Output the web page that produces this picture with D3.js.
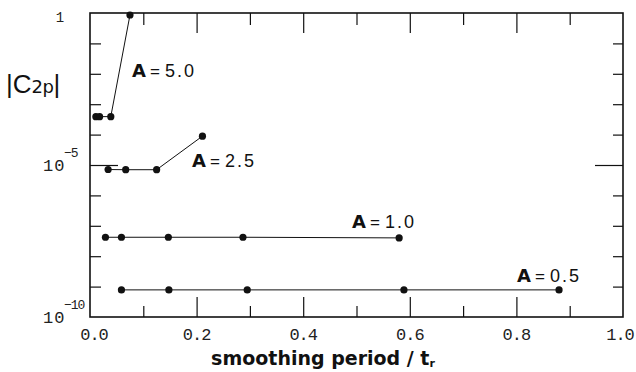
<!DOCTYPE html>
<html><head><meta charset="utf-8">
<script src="https://cdn.jsdelivr.net/npm/d3@7"></script>
<style>body{margin:0;background:#fff}svg{display:block}</style>
</head><body><svg id="c" width="636" height="372"></svg>
<script>
// ---- data ----
const seriesNames = ["A = 5.0", "A = 2.5", "A = 1.0", "A = 0.5"];
const amplitudeText = ["5.0", "2.5", "1.0", "0.5"];
const period50 = [0.011, 0.018, 0.039, 0.075];
const coef50   = [3.9e-4, 3.9e-4, 3.9e-4, 0.86];
const period25 = [0.034, 0.067, 0.125, 0.211];
const coef25   = [7.1e-6, 7.0e-6, 7.0e-6, 8.9e-5];
const period10 = [0.029, 0.059, 0.147, 0.287, 0.580];
const coef10   = [4.2e-8, 4.2e-8, 4.2e-8, 4.2e-8, 4.0e-8];
const period05 = [0.059, 0.148, 0.295, 0.589, 0.880];
const coef05   = [7.8e-10, 7.8e-10, 7.8e-10, 7.8e-10, 7.8e-10];
const xTickLabels = ["0.0", "0.2", "0.4", "0.6", "0.8", "1.0"];
const xMajorTicks = [0.2, 0.4, 0.6, 0.8];
const xMinorTicks = [0.1, 0.3, 0.5, 0.7, 0.9];
const yDecadeTicks = [1e-1, 1e-2, 1e-3, 1e-4, 1e-6, 1e-7, 1e-8, 1e-9];
const yLongTicks = [1e-5];
const yTickLabels = [{v: 1, base: "1", exp: ""}, {v: 1e-5, base: "10", exp: "\u22125"}, {v: 1e-10, base: "10", exp: "\u221210"}];

// ---- layout ----
const L = 90, R = 623, T = 13, B = 317;
const svg = d3.select("#c");
const x = d3.scaleLinear().domain([0, 1]).range([L, R]);
const y = d3.scaleLog().domain([1e-10, 1]).range([B, T]);

const mono = "'Liberation Mono', 'DejaVu Sans Mono', monospace";

// ticks via d3 axes (inward)
function styleAxis(g){ g.select(".domain").remove(); g.selectAll("line").attr("stroke","#111").attr("stroke-width",1.2); g.selectAll("text").remove(); }
svg.append("g").attr("transform",`translate(0,${B})`).call(d3.axisTop(x).tickValues(xMajorTicks).tickSize(20)).call(styleAxis);
svg.append("g").attr("transform",`translate(0,${B})`).call(d3.axisTop(x).tickValues(xMinorTicks).tickSize(11)).call(styleAxis);
svg.append("g").attr("transform",`translate(0,${T})`).call(d3.axisBottom(x).tickValues(xMajorTicks).tickSize(20)).call(styleAxis);
svg.append("g").attr("transform",`translate(0,${T})`).call(d3.axisBottom(x).tickValues(xMinorTicks).tickSize(12)).call(styleAxis);
svg.append("g").attr("transform",`translate(${L},0)`).call(d3.axisRight(y).tickValues(yDecadeTicks).tickSize(11)).call(styleAxis);
svg.append("g").attr("transform",`translate(${L},0)`).call(d3.axisRight(y).tickValues(yLongTicks).tickSize(28)).call(styleAxis);
svg.append("g").attr("transform",`translate(${R},0)`).call(d3.axisLeft(y).tickValues(yDecadeTicks).tickSize(10)).call(styleAxis);
svg.append("g").attr("transform",`translate(${R},0)`).call(d3.axisLeft(y).tickValues(yLongTicks).tickSize(28)).call(styleAxis);

// frame
svg.append("rect").attr("x",L).attr("y",T).attr("width",R-L).attr("height",B-T)
  .attr("fill","none").attr("stroke","#111").attr("stroke-width",1.6);

// x tick labels
svg.append("g").selectAll("text").data(xTickLabels).join("text")
  .attr("x", d => Math.min(Math.max(x(+d), L + 4), R - 3)).attr("y", 340).attr("text-anchor","middle")
  .attr("font-family", mono).attr("font-size", 17).attr("letter-spacing", -1)
  .attr("fill","#222").text(d => d);

// y tick labels
const yl = svg.append("g").attr("font-family", mono).attr("fill","#222");
yTickLabels.forEach(t => {
  if (t.exp === "") {
    yl.append("text").attr("x", 60).attr("y", y(t.v) + 9).attr("text-anchor","middle")
      .attr("font-size", 14).text(t.base);
  } else {
    yl.append("text").attr("x", 43).attr("y", y(t.v) + 6).attr("font-size", 17).attr("letter-spacing", 1).text(t.base);
    yl.append("text").attr("x", 64).attr("y", y(t.v) - 8).attr("font-size", 13).attr("letter-spacing", -1).text(t.exp);
  }
});

// series
const series = [
  {name: seriesNames[0], amp: amplitudeText[0], px: period50, py: coef50, lx: 132, ly: 77},
  {name: seriesNames[1], amp: amplitudeText[1], px: period25, py: coef25, lx: 192, ly: 167},
  {name: seriesNames[2], amp: amplitudeText[2], px: period10, py: coef10, lx: 352, ly: 228},
  {name: seriesNames[3], amp: amplitudeText[3], px: period05, py: coef05, lx: 517, ly: 282}
];
const line = d3.line().x(d => x(d[0])).y(d => y(d[1]));
series.forEach(s => {
  const pts = s.px.map((v, i) => [v, s.py[i]]);
  svg.append("path").attr("d", line(pts)).attr("fill","none").attr("stroke","#111").attr("stroke-width",1);
  svg.append("g").selectAll("circle").data(pts).join("circle")
    .attr("cx", d => x(d[0])).attr("cy", d => y(d[1])).attr("r", 3.6).attr("fill","#111");
  const t = svg.append("text").attr("x", s.lx).attr("y", s.ly).attr("fill","#111");
  t.append("tspan").attr("font-family","'DejaVu Sans', sans-serif").attr("font-weight","bold").attr("font-size",18).text("A");
  t.append("tspan").attr("font-family","'Liberation Sans', sans-serif").attr("font-size",17).attr("dx",4).text("=");
  t.append("tspan").attr("font-family","'Liberation Sans Narrow','Liberation Sans', sans-serif").attr("font-size",18).attr("dx",5).attr("letter-spacing",2).text(s.amp);
});

// y-axis title |C2p|
const yt = svg.append("text").attr("x", 6).attr("y", 93).attr("fill","#111");
yt.append("tspan").attr("font-family","'Liberation Sans Narrow','Liberation Sans', sans-serif").attr("font-size",26).text("|C");
yt.append("tspan").attr("font-family","'DejaVu Sans', sans-serif").attr("font-size",18).attr("letter-spacing",-0.5).text("2p");
yt.append("tspan").attr("font-family","'Liberation Sans Narrow','Liberation Sans', sans-serif").attr("font-size",26).text("|");

// x-axis title
const xt = svg.append("text").attr("x", 323).attr("y", 365).attr("text-anchor","middle")
  .attr("font-family","'DejaVu Sans', sans-serif").attr("font-weight","bold").attr("font-size",19).attr("fill","#111");
xt.append("tspan").text("smoothing period / t");
xt.append("tspan").attr("font-size",11).attr("dy",2).text("r");
</script></body></html>
